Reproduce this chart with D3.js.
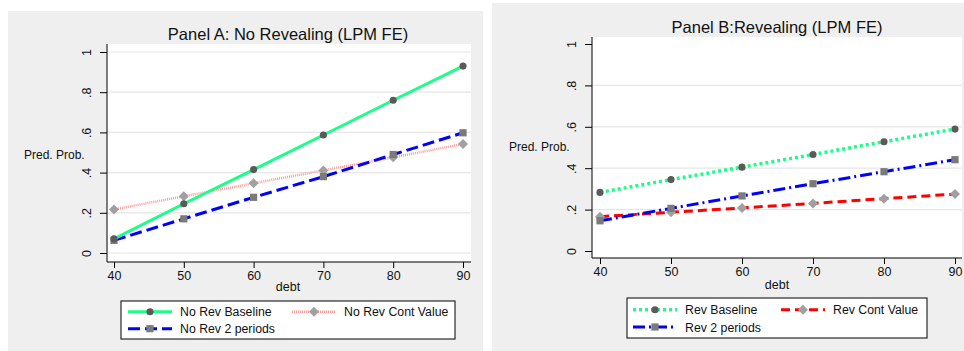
<!DOCTYPE html>
<html>
<head>
<meta charset="utf-8">
<script src="https://cdn.jsdelivr.net/npm/d3@7"></script>
<style>
  body { margin: 0; background: #fff; font-family: "Liberation Sans", Arial, sans-serif; }
  svg text { font-family: "Liberation Sans", Arial, sans-serif; fill: #111; }
</style>
</head>
<body>
<div id="chart"></div>
<script>
const debt = [40, 50, 60, 70, 80, 90];
const yTicks = [0, 0.2, 0.4, 0.6, 0.8, 1];
const yTickLabels = ['0', '.2', '.4', '.6', '.8', '1'];

const noRevBaseline = [0.07, 0.245, 0.415, 0.587, 0.76, 0.93];
const noRevContValue = [0.217, 0.282, 0.347, 0.411, 0.476, 0.542];
const noRev2Periods = [0.063, 0.17, 0.277, 0.38, 0.49, 0.598];

const revBaseline = [0.283, 0.345, 0.405, 0.466, 0.528, 0.589];
const revContValue = [0.166, 0.187, 0.208, 0.23, 0.253, 0.275];
const rev2Periods = [0.146, 0.206, 0.266, 0.325, 0.383, 0.441];

const svg = d3.select('#chart').append('svg').attr('width', 964).attr('height', 351);

// marker styles shared by both panels (diamond = rotated square)
const markers = {
  circle: { type: d3.symbolCircle, size: 40, fill: '#5a5a5a', rot: 0 },
  diamond: { type: d3.symbolSquare, size: 50, fill: '#a0a0a0', rot: 45 },
  square: { type: d3.symbolSquare, size: 52, fill: '#7a7a7a', rot: 0 }
};

const panels = [
  {
    title: 'Panel A: No Revealing (LPM FE)',
    bg: { x: 8, y: 11, w: 475, h: 340 },
    plot: { x: 107, y: 44, w: 364, h: 218 },
    y0: 253, y1: 52, x40: 114, x90: 463,
    titleX: 288, titleY: 40, ylabX: 24, ylabY: 159, debtX: 288, debtY: 291,
    grid: [0, 0.2, 0.4, 0.6, 0.8, 1],
    legend: { x: 121, y: 301, w: 334, h: 38, lx: 7, col2: 164, r1: 10.7, r2: 27.7 },
    series: [
      { name: 'No Rev Baseline', values: noRevBaseline, color: '#1aff88', width: 3, dash: null, marker: 'circle' },
      { name: 'No Rev Cont Value', values: noRevContValue, color: '#ff9a9a', width: 2.5, dash: '1,1', marker: 'diamond' },
      { name: 'No Rev 2 periods', values: noRev2Periods, color: '#0000ff', width: 3, dash: '12,5', marker: 'square' }
    ],
    order: [1, 2, 0]
  },
  {
    title: 'Panel B:Revealing (LPM FE)',
    bg: { x: 492, y: 3, w: 472, h: 348 },
    plot: { x: 592, y: 37, w: 370, h: 221 },
    y0: 251, y1: 44, x40: 600, x90: 955,
    titleX: 777, titleY: 33, ylabX: 509, ylabY: 151, debtX: 777, debtY: 289,
    grid: [0.2, 0.4, 0.6, 0.8],
    legend: { x: 627, y: 298, w: 300, h: 40, lx: 6, col2: 148, r1: 11.7, r2: 29 },
    series: [
      { name: 'Rev Baseline', values: revBaseline, color: '#1aff88', width: 3.5, dash: '3,3', marker: 'circle' },
      { name: 'Rev Cont Value', values: revContValue, color: '#ff0000', width: 3, dash: '9,5', marker: 'diamond' },
      { name: 'Rev 2 periods', values: rev2Periods, color: '#0000ff', width: 3, dash: '12,4,2,4', marker: 'square' }
    ],
    order: [1, 2, 0]
  }
];

panels.forEach(p => {
  const g = svg.append('g');
  g.append('rect').attr('x', p.bg.x).attr('y', p.bg.y).attr('width', p.bg.w).attr('height', p.bg.h).attr('fill', '#efefef');
  g.append('rect').attr('x', p.plot.x).attr('y', p.plot.y).attr('width', p.plot.w).attr('height', p.plot.h).attr('fill', '#fff');

  const x = d3.scaleLinear().domain([40, 90]).range([p.x40, p.x90]);
  const y = d3.scaleLinear().domain([0, 1]).range([p.y0, p.y1]);

  // grid
  g.selectAll('.grid').data(p.grid).enter().append('line')
    .attr('x1', p.plot.x).attr('x2', p.plot.x + p.plot.w)
    .attr('y1', d => y(d)).attr('y2', d => y(d))
    .attr('stroke', '#e6e6e6').attr('stroke-width', 1.2);

  // y axis
  const yAxis = g.append('g').attr('transform', `translate(${p.plot.x},0)`)
    .call(d3.axisLeft(y).tickValues(yTicks).tickFormat((d, i) => yTickLabels[i]).tickSize(7).tickPadding(4));
  yAxis.select('.domain').attr('d', `M0,${p.plot.y}V${p.plot.y + p.plot.h}`).attr('stroke', '#000');
  yAxis.selectAll('.tick line').attr('stroke', '#000');
  yAxis.selectAll('.tick text')
    .attr('font-size', 12.5).attr('text-anchor', 'middle')
    .attr('transform', 'rotate(-90)').attr('x', 0).attr('y', -16).attr('dy', 0);

  // x axis
  const xAxis = g.append('g').attr('transform', `translate(0,${p.plot.y + p.plot.h})`)
    .call(d3.axisBottom(x).tickValues(debt).tickSize(6).tickPadding(3));
  xAxis.select('.domain').attr('d', `M${p.plot.x},0H${p.plot.x + p.plot.w}`).attr('stroke', '#000');
  xAxis.selectAll('.tick line').attr('stroke', '#000');
  xAxis.selectAll('.tick text').attr('font-size', 12.5);

  g.append('text').attr('x', p.titleX).attr('y', p.titleY)
    .attr('text-anchor', 'middle').attr('font-size', 16.5).text(p.title);
  g.append('text').attr('x', p.ylabX).attr('y', p.ylabY).attr('font-size', 12).text('Pred. Prob.');
  g.append('text').attr('x', p.debtX).attr('y', p.debtY)
    .attr('text-anchor', 'middle').attr('font-size', 12.5).text('debt');

  const line = d3.line().x((d, i) => x(debt[i])).y(d => y(d));

  p.order.forEach(si => {
    const s = p.series[si];
    g.append('path').attr('d', line(s.values)).attr('fill', 'none')
      .attr('stroke', s.color).attr('stroke-width', s.width)
      .attr('stroke-dasharray', s.dash);
    const m = markers[s.marker];
    g.selectAll(null).data(s.values).enter().append('path')
      .attr('d', d3.symbol().type(m.type).size(m.size))
      .attr('transform', (d, i) => `translate(${x(debt[i])},${y(d)}) rotate(${m.rot})`)
      .attr('fill', m.fill);
  });

  // legend
  const L = p.legend;
  const lg = g.append('g').attr('transform', `translate(${L.x},${L.y})`);
  lg.append('rect').attr('width', L.w).attr('height', L.h).attr('fill', '#fff').attr('stroke', '#000').attr('stroke-width', 1);
  const slots = [[0, L.r1], [1, L.r1], [0, L.r2]];
  [0, 1, 2].forEach((si, k) => {
    const s = p.series[si];
    const ox = L.lx + slots[k][0] * L.col2;
    const oy = slots[k][1];
    lg.append('line').attr('x1', ox).attr('x2', ox + 44).attr('y1', oy).attr('y2', oy)
      .attr('stroke', s.color).attr('stroke-width', s.width).attr('stroke-dasharray', s.dash);
    const m = markers[s.marker];
    lg.append('path').attr('d', d3.symbol().type(m.type).size(m.size))
      .attr('transform', `translate(${ox + 22},${oy}) rotate(${m.rot})`).attr('fill', m.fill);
    lg.append('text').attr('x', ox + 52).attr('y', oy + 4.5).attr('font-size', 12.3).text(s.name);
  });
});
</script>
</body>
</html>
